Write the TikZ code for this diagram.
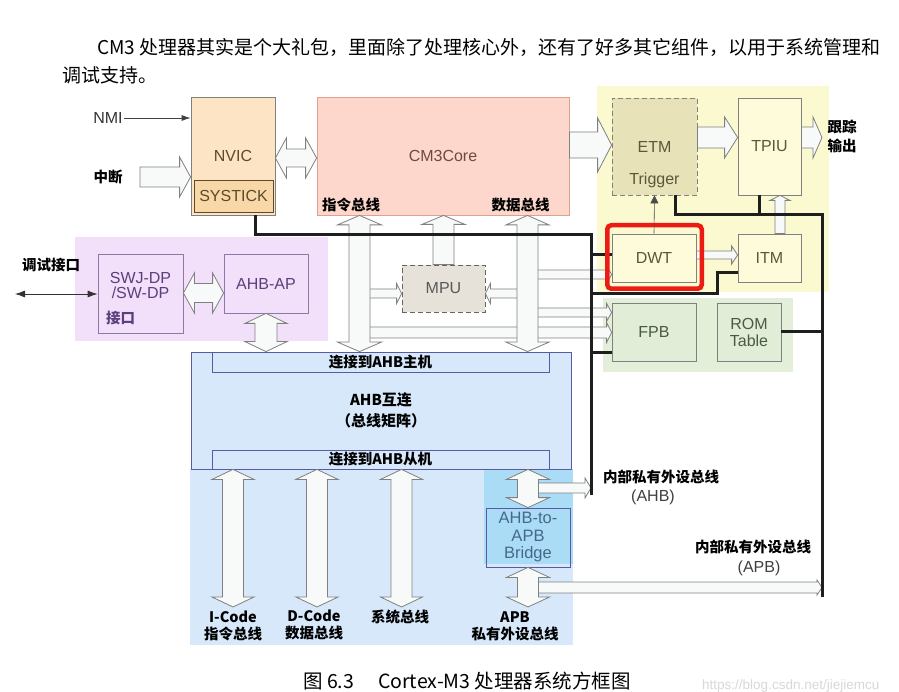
\documentclass[tikz,border=0pt]{standalone}
\usepackage{fontspec}
\setmainfont{Liberation Sans}
\newfontfamily\cjk{Noto Sans CJK SC}
\usetikzlibrary{calc,arrows.meta}

\definecolor{nvicfill}{RGB}{252,228,196}
\definecolor{tickfill}{RGB}{247,216,166}
\definecolor{corefill}{RGB}{253,214,204}
\definecolor{coreline}{RGB}{222,160,145}
\definecolor{trcregion}{RGB}{251,249,207}
\definecolor{etmfill}{RGB}{232,226,184}
\definecolor{trcfill}{RGB}{253,251,218}
\definecolor{fpbregion}{RGB}{228,239,217}
\definecolor{fpbfill}{RGB}{225,237,214}
\definecolor{dbgregion}{RGB}{242,223,249}
\definecolor{ahbfill}{RGB}{214,232,250}
\definecolor{brgregion}{RGB}{170,220,246}
\definecolor{mpufill}{RGB}{230,226,217}
\definecolor{arrowfill}{RGB}{248,249,249}
\definecolor{arrowline}{RGB}{128,128,128}
\definecolor{busline}{RGB}{30,30,30}
\definecolor{hotred}{RGB}{236,28,20}
\definecolor{nvictext}{RGB}{92,74,46}
\definecolor{coretext}{RGB}{110,75,66}
\definecolor{trctext}{RGB}{90,88,58}
\definecolor{fpbtext}{RGB}{74,90,68}
\definecolor{dbgtext}{RGB}{92,63,124}
\definecolor{brgtext}{RGB}{69,105,140}
\definecolor{marktext}{RGB}{216,216,216}

\tikzset{
  lbl/.style={font=\fontsize{16}{18}\selectfont, inner sep=1pt, align=center},
  zh/.style={font=\cjk\bfseries\fontsize{14.5}{17}\selectfont, inner sep=0pt, align=center},
  box/.style={rectangle, draw=#1, line width=0.8pt, inner sep=0pt, align=center,
    font=\fontsize{16}{18}\selectfont},
  box/.default=gray,
  bus/.style={draw=busline, line width=3pt},
  hollow/.style={draw=arrowline, fill=arrowfill, line width=0.8pt, line join=miter},
  % fat hollow arrow: {shaft half width}{head half width}{head length}
  fat/.style n args={3}{hollow, to path={
    ($(\tikztostart)!#1!90:(\tikztotarget)$)
    -- ($(\tikztotarget)!#3!(\tikztostart)!#1!90:(\tikztotarget)$)
    -- ($(\tikztotarget)!#3!(\tikztostart)!#2!90:(\tikztotarget)$)
    -- (\tikztotarget)
    -- ($(\tikztotarget)!#3!(\tikztostart)!#2!-90:(\tikztotarget)$)
    -- ($(\tikztotarget)!#3!(\tikztostart)!#1!-90:(\tikztotarget)$)
    -- ($(\tikztostart)!#1!-90:(\tikztotarget)$)
    -- cycle}},
  fatboth/.style n args={3}{hollow, to path={
    (\tikztostart)
    -- ($(\tikztostart)!#3!(\tikztotarget)!#2!90:(\tikztotarget)$)
    -- ($(\tikztostart)!#3!(\tikztotarget)!#1!90:(\tikztotarget)$)
    -- ($(\tikztotarget)!#3!(\tikztostart)!#1!90:(\tikztotarget)$)
    -- ($(\tikztotarget)!#3!(\tikztostart)!#2!90:(\tikztotarget)$)
    -- (\tikztotarget)
    -- ($(\tikztotarget)!#3!(\tikztostart)!#2!-90:(\tikztotarget)$)
    -- ($(\tikztotarget)!#3!(\tikztostart)!#1!-90:(\tikztotarget)$)
    -- ($(\tikztostart)!#3!(\tikztotarget)!#1!-90:(\tikztotarget)$)
    -- ($(\tikztostart)!#3!(\tikztotarget)!#2!-90:(\tikztotarget)$)
    -- cycle}},
}

\begin{document}
\begin{tikzpicture}[x=1pt,y=-1pt]
  \useasboundingbox (0,0) rectangle (899,692);
  \fill[white] (0,0) rectangle (899,692);
  \def\ibx{359.5}
  \def\dbx{527.5}

  % intro lines
  \node[anchor=west, inner sep=0pt, font=\cjk\fontsize{19}{22}\selectfont] (intro) at (97,47)
    {CM3 处理器其实是个大礼包，里面除了处理核心外，还有了好多其它组件，以用于系统管理和};
  \node[anchor=west, inner sep=0pt, font=\cjk\fontsize{19}{22}\selectfont] (intro2) at (62,75) {调试支持。};

  % shaded regions
  \fill[dbgregion] (75,237) rectangle (328,341);
  \fill[trcregion] (597,86) rectangle (829,292);
  \fill[fpbregion] (603,298) rectangle (793,372);
  \fill[ahbfill] (190,469) rectangle (573,645);
  \fill[brgregion] (484,469) rectangle (573,564);

  % blocks
  \node[box, fill=nvicfill, minimum width=84pt, minimum height=118pt, text=nvictext] (nvic) at (233,156) {NVIC};
  \node[box=nvictext, fill=tickfill, minimum width=79pt, minimum height=32pt, text=nvictext] (systick) at (233.5,196) {SYSTICK};
  \node[box=coreline, fill=corefill, minimum width=252pt, minimum height=118pt, text=coretext] (core) at (443,156) {CM3Core};
  \node[box, fill=etmfill, dash pattern=on 5pt off 3pt, minimum width=85pt, minimum height=97pt, text=trctext] (etm) at (654.5,146.5) {ETM};
  \node[box, fill=trcfill, minimum width=63pt, minimum height=97pt, text=trctext] (tpiu) at (769.5,146.5) {TPIU};
  \node[box, fill=trcfill, minimum width=84pt, minimum height=48pt, text=trctext] (dwt) at (654,258) {DWT};
  \node[box, fill=trcfill, minimum width=63pt, minimum height=48pt, text=trctext] (itm) at (769.5,258) {ITM};
  \node[box, fill=fpbfill, minimum width=84pt, minimum height=58pt, text=fpbtext] (fpb) at (654,332) {FPB};
  \node[box, fill=fpbfill, minimum width=64pt, minimum height=58pt, text=fpbtext,
    font=\fontsize{16}{17}\selectfont] (rom) at (749,332) {ROM\\Table};
  \node[box=gray!80!black, fill=mpufill, dash pattern=on 5pt off 3pt, minimum width=83pt, minimum height=47pt, text=black!65] (mpu) at (443.5,288.5) {MPU};
  \node[box=dbgtext!70, minimum width=85pt, minimum height=79pt] (swj) at (140.5,293.5) {};
  \node[box=dbgtext!70, minimum width=84pt, minimum height=59pt, text=dbgtext] (ahbap) at (266,283.5) {AHB-AP};
  \node[box=gray!70!blue, fill=ahbfill, minimum width=380pt, minimum height=117pt, zh,
    font=\cjk\bfseries\fontsize{15}{21}\selectfont] (ahb) at (381,410.5) {AHB互连\\（总线矩阵）};
  \node[box=gray!70!blue, minimum width=337pt, minimum height=20pt, zh] (master) at (380.5,362) {连接到AHB主机};
  \node[box=gray!70!blue, minimum width=337pt, minimum height=19pt, zh] (slave) at (380.5,459.5) {连接到AHB从机};
  \node[box=gray!70!blue, minimum width=84pt, minimum height=59pt, text=brgtext,
    font=\fontsize{16.5}{17.5}\selectfont] (bridge) at (528,537.5) {AHB-to-\\APB\\Bridge};

  % free ends
  \coordinate (intin) at (140,177);
  \coordinate (trcout) at (822,137.5);
  \coordinate (dbgport) at (15,294);
  \coordinate (ahbtop) at (591,235);
  \coordinate (ahbbot) at (591,495);
  \coordinate (apbtop) at (822,215);
  \coordinate (apbbot) at (822,597);

  % small hollow arrows (under the bus arrows)
  \path[fat={4.5pt}{10pt}{5pt}] (\ibx,293.5) to (mpu.west |- 0,293.5);
  \path[fat={4.5pt}{10pt}{5pt}] (\dbx,293.5) to (mpu.east |- 0,293.5);
  \path[fat={4.5pt}{9pt}{5pt}] (\dbx,274.5) to (dwt.west |- 0,274.5);
  \path[fat={4.5pt}{9pt}{5pt}] (\dbx,312.5) to (fpb.west |- 0,312.5);
  \path[fat={5.5pt}{10pt}{5pt}] (\ibx,332.5) to (fpb.west |- 0,332.5);
  \path[fat={5pt}{10pt}{6pt}] (\dbx,488) to (ahbbot |- 0,488);
  \path[fat={5.5pt}{7.5pt}{5pt}] (\dbx,587.5) to (apbbot |- 0,587.5);

  % bus arrows
  \path[fatboth={10.5pt}{22pt}{9.5pt}] (core.south -| \ibx,0) to (ahb.north -| \ibx,0);
  \path[fat={10.5pt}{21.5pt}{9pt}] (mpu.north) to (mpu.north |- core.south);
  \path[fatboth={10.5pt}{21.5pt}{9.5pt}] (core.south -| \dbx,0) to (ahb.north -| \dbx,0);
  \path[fatboth={11pt}{21pt}{10pt}] (ahbap.south) to (ahbap.south |- ahb.north);
  \foreach \bx in {233,317,401.5}
    \path[fatboth={10.5pt}{21pt}{10pt}] (ahb.south -| \bx,0) to (\bx,607);
  \path[fatboth={10.5pt}{21.5pt}{10pt}] (ahb.south -| bridge.north) to (bridge.north);
  \path[fatboth={10.5pt}{21.5pt}{10pt}] (bridge.south) to (bridge.south |- 0,607);

  \path[fat={10pt}{20pt}{11pt}] (intin) to (nvic.west |- intin);
  \path[fatboth={9pt}{20pt}{11pt}] (nvic.east |- 0,158) to (core.west |- 0,158);
  \path[fat={13pt}{27pt}{14pt}] (core.east |- 0,145) to (etm.west |- 0,145);
  \path[fat={10.5pt}{20.5pt}{13pt}] (etm.east |- 0,137.5) to (tpiu.west |- 0,137.5);
  \path[fat={10.5pt}{20.5pt}{9pt}] (tpiu.east |- 0,137.5) to (trcout);
  \path[fat={4pt}{9pt}{6pt}] (dwt.east |- 0,255) to (itm.west |- 0,255);
  \path[fat={5pt}{10pt}{5pt}] (itm.north -| 780,0) to (tpiu.south -| 780,0);
  \path[fatboth={9.5pt}{20pt}{11pt}] (swj.east |- 0,293) to (ahbap.west |- 0,293);

  % private peripheral buses
  \draw[bus] (nvic.south -| 255,0) -- (255,235) -- (ahbtop) -- (ahbbot);
  \draw[bus] (ahbtop |- 0,255) -- (dwt.west |- 0,255);
  \draw[bus] (ahbtop |- 0,294) -- (717,294) -- (717,273) -- (itm.west |- 0,273);
  \draw[bus] (ahbtop |- 0,352) -- (fpb.west |- 0,352);
  \draw[bus] (etm.south -| 675,0) -- (675,215) -- (apbtop) -- (apbbot);
  \draw[bus] (tpiu.south -| 759,0) -- (759,215);
  \draw[bus] (rom.east) -- (rom.east -| apbtop);

  % highlight
  \node[draw=hotred, line width=4.5pt, rounded corners=4pt, minimum width=94.5pt, minimum height=63.5pt] (dwtmark) at (654.5,257) {};

  % labels
  \node[lbl, text=black!80] (nmi) at (108,118) {NMI};
  \node[zh] (irq) at (108,177) {中断};
  \node[zh] (dbglbl) at (51,265) {调试接口};
  \node[zh, font=\cjk\bfseries\fontsize{14.5}{19}\selectfont] (trclbl) at (842,136.5) {跟踪\\输出};
  \node[zh] (ibuslbl) at (351,205) {指令总线};
  \node[zh] (dbuslbl) at (520.5,205) {数据总线};
  \node[lbl, text=trctext] (trig) at (654.5,180) {Trigger};
  \node[lbl, text=dbgtext, font=\fontsize{16}{15}\selectfont] (swjlbl) at (140.5,285.5) {SWJ-DP\\/SW-DP};
  \node[zh, text=dbgtext, anchor=west] (swjport) at (106,318) {接口};
  \node[zh] (icode) at (233,625.5) {I-Code\\指令总线};
  \node[zh] (dcode) at (314,624.5) {D-Code\\数据总线};
  \node[zh] (sysbus) at (400,617) {系统总线};
  \node[zh] (apblbl) at (515,626) {APB\\私有外设总线};
  \node[zh] (ppbahb) at (661,477) {内部私有外设总线};
  \node[lbl, text=black!75] (ppbahb2) at (653,497) {(AHB)};
  \node[zh] (ppbapb) at (753,547) {内部私有外设总线};
  \node[lbl, text=black!75] (ppbapb2) at (759,568) {(APB)};

  % thin arrows
  \draw[-{Latex[length=9pt,width=6pt]}, line width=0.8pt, black!75] (nmi.east) -- (nvic.west |- nmi.east);
  \draw[{Latex[length=10pt,width=7pt]}-{Latex[length=10pt,width=7pt]}, line width=0.8pt, black!80] (dbgport) -- (swj.west |- dbgport);
  \draw[-{Triangle[length=8pt,width=8pt]}, line width=0.6pt, black!70] (dwt.north) -- (etm.south);

  % caption and mark
  \node[anchor=west, inner sep=0pt, font=\cjk\fontsize{19.5}{22}\selectfont] (caption) at (303,681)
    {图 6.3\hspace{24pt}Cortex-M3 处理器系统方框图};
  \node[anchor=west, inner sep=0pt, text=marktext, font=\fontsize{13.5}{15}\selectfont] (mark) at (702,686)
    {https://blog.csdn.net/jiejiemcu};
\end{tikzpicture}
\end{document}
